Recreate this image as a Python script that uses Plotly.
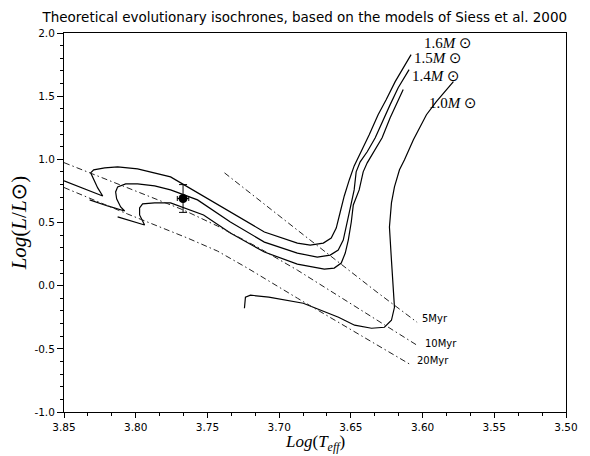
import plotly.graph_objects as go

# ---------------- data (log Teff, log L/Lsun) ----------------
M16_T = [3.6080, 3.6191, 3.6254, 3.6310, 3.6372, 3.6428, 3.6477, 3.6511, 3.6546, 3.6574,
         3.6602, 3.6637, 3.6692, 3.6783, 3.6873, 3.7103, 3.7340, 3.7569, 3.7757, 3.7987,
         3.8126, 3.8216, 3.8293, 3.8314, 3.8293, 3.8265, 3.8230, 3.8335, 3.8500]
M16_L = [1.829, 1.615, 1.472, 1.353, 1.194, 1.060, 0.948, 0.837, 0.710, 0.583,
         0.456, 0.377, 0.337, 0.321, 0.337, 0.425, 0.583, 0.742, 0.861, 0.925,
         0.940, 0.933, 0.917, 0.893, 0.837, 0.774, 0.710, 0.758, 0.830]

M15_T = [3.6094, 3.6170, 3.6226, 3.6268, 3.6330, 3.6386, 3.6435, 3.6463, 3.6477, 3.6504,
         3.6532, 3.6553, 3.6588, 3.6644, 3.6734, 3.6873, 3.7103, 3.7340, 3.7569, 3.7757,
         3.7868, 3.7987, 3.8070, 3.8126, 3.8140, 3.8133, 3.8105, 3.8077, 3.8196, 3.8321]
M15_L = [1.710, 1.567, 1.433, 1.329, 1.171, 1.060, 0.980, 0.901, 0.758, 0.615,
         0.456, 0.361, 0.282, 0.242, 0.226, 0.258, 0.345, 0.504, 0.679, 0.758,
         0.790, 0.806, 0.806, 0.782, 0.742, 0.687, 0.623, 0.591, 0.631, 0.679]

M14_T = [3.6135, 3.6191, 3.6226, 3.6282, 3.6337, 3.6386, 3.6414, 3.6442, 3.6483, 3.6497,
         3.6518, 3.6539, 3.6567, 3.6616, 3.6685, 3.6873, 3.7103, 3.7340, 3.7527, 3.7757,
         3.7868, 3.7952, 3.7973, 3.7973, 3.7938, 3.8035, 3.8126]
M14_L = [1.552, 1.409, 1.329, 1.171, 1.060, 0.972, 0.901, 0.758, 0.639, 0.504,
         0.361, 0.258, 0.179, 0.139, 0.131, 0.171, 0.266, 0.417, 0.560, 0.655,
         0.655, 0.647, 0.615, 0.560, 0.480, 0.512, 0.544]

M10_T = [3.7242, 3.7235, 3.7200, 3.7072, 3.6832, 3.6586, 3.6474, 3.6356, 3.6266, 3.6217,
         3.6196, 3.6203, 3.6217, 3.6231, 3.6217, 3.6196, 3.6161, 3.6126, 3.6064, 3.5973,
         3.5904, 3.5785]
M10_L = [-0.179, -0.091, -0.075, -0.091, -0.139, -0.250, -0.313, -0.337, -0.329, -0.274,
         -0.171, -0.012, 0.202, 0.464, 0.655, 0.782, 0.917, 0.996, 1.155, 1.353,
         1.456, 1.615]

ISO5_T = [3.7381, 3.7152, 3.6873, 3.6595, 3.6317, 3.6038]
ISO5_L = [0.893, 0.687, 0.440, 0.194, -0.052, -0.290]

ISO10_T = [3.8500, 3.8056, 3.7667, 3.7430, 3.7152, 3.6873, 3.6595, 3.6317, 3.6038]
ISO10_L = [0.974, 0.774, 0.599, 0.472, 0.306, 0.123, -0.075, -0.274, -0.472]

ISO20_T = [3.8500, 3.8265, 3.8056, 3.7848, 3.7639, 3.7430, 3.7221, 3.6873, 3.6525, 3.6087]
ISO20_L = [0.777, 0.663, 0.567, 0.472, 0.377, 0.274, 0.139, -0.099, -0.329, -0.623]

STAR_T = [3.767]
STAR_L = [0.69]
STAR_T_ERR = [0.004]
STAR_L_ERR = [0.11]

MASS_LABELS = ["1.6", "1.5", "1.4", "1.0"]
MASS_LABEL_T = [3.6003, 3.6073, 3.6087, 3.5968]
MASS_LABEL_L = [1.922, 1.803, 1.657, 1.448]

AGE_LABELS = ["5Myr", "10Myr", "20Myr"]
AGE_LABEL_T = [3.6017, 3.6000, 3.6050]
AGE_LABEL_L = [-0.258, -0.456, -0.591]

X_TICKS = [3.85, 3.80, 3.75, 3.70, 3.65, 3.60, 3.55, 3.50]
Y_TICKS = [-1.0, -0.5, 0.0, 0.5, 1.0, 1.5, 2.0]

# ---------------- figure ----------------
fig = go.Figure()

track_line = dict(color="black", width=1.2)
for T, L in [(M16_T, M16_L), (M15_T, M15_L), (M14_T, M14_L), (M10_T, M10_L)]:
    fig.add_trace(go.Scatter(x=T, y=L, mode="lines", line=track_line,
                             showlegend=False, hoverinfo="skip"))

iso_line = dict(color="#222222", width=1, dash="6px,3px,1.5px,3px")
for T, L in [(ISO5_T, ISO5_L), (ISO10_T, ISO10_L), (ISO20_T, ISO20_L)]:
    fig.add_trace(go.Scatter(x=T, y=L, mode="lines", line=iso_line,
                             showlegend=False, hoverinfo="skip"))

fig.add_trace(go.Scatter(
    x=STAR_T, y=STAR_L, mode="markers",
    marker=dict(size=9, color="black"),
    error_y=dict(type="data", array=STAR_L_ERR, color="black", thickness=1, width=4),
    error_x=dict(type="data", array=STAR_T_ERR, color="black", thickness=1, width=2.5),
    showlegend=False, hoverinfo="skip"))

annotations = []
for lab, t, l in zip(MASS_LABELS, MASS_LABEL_T, MASS_LABEL_L):
    annotations.append(dict(
        x=t, y=l, xref="x", yref="y", showarrow=False, xanchor="left", yanchor="middle",
        text=lab + "<i>M</i> <span style='font-family:DejaVu Sans'>⊙</span>",
        font=dict(family="Liberation Serif", size=15, color="black")))
for lab, t, l in zip(AGE_LABELS, AGE_LABEL_T, AGE_LABEL_L):
    annotations.append(dict(
        x=t, y=l, xref="x", yref="y", showarrow=False, xanchor="left", yanchor="middle",
        text=lab, font=dict(family="DejaVu Sans", size=10, color="black")))

# axis titles as annotations (paper coordinates of the plot area)
annotations.append(dict(
    x=0.5, y=-0.083, xref="paper", yref="paper", showarrow=False,
    xanchor="center", yanchor="middle",
    text="<i>Log</i>(<i>T</i><sub><i>eff</i></sub>)",
    font=dict(family="Liberation Serif", size=17, color="black")))
annotations.append(dict(
    x=-0.09, y=0.5, xref="paper", yref="paper", showarrow=False,
    xanchor="center", yanchor="middle", textangle=-90,
    text="<i>Log</i>(<i>L</i>/<i>L</i><span style='font-family:DejaVu Sans'>⊙</span>)",
    font=dict(family="Liberation Serif", size=21, color="black")))

fig.update_layout(
    width=582, height=448,
    margin=dict(l=56, r=15, t=25, b=44),
    paper_bgcolor="white", plot_bgcolor="white",
    title=dict(text="Theoretical evolutionary isochrones, based on the models of Siess et al. 2000",
               x=0.51, xref="container", xanchor="center",
               y=1 - 9 / 448, yref="container", yanchor="middle",
               font=dict(family="DejaVu Sans", size=13.5, color="black")),
    annotations=annotations,
    font=dict(family="DejaVu Sans", color="black"),
)

fig.update_xaxes(
    range=[3.85, 3.50], autorange=False,
    tickvals=X_TICKS, ticktext=[f"{v:.2f}" for v in X_TICKS],
    ticks="outside", ticklen=5, tickwidth=1, tickcolor="black",
    minor=dict(dtick=0.05 / 3, tick0=3.5, ticks="outside", ticklen=3, tickcolor="black"),
    showline=True, linecolor="black", linewidth=1, mirror=True,
    showgrid=False, zeroline=False,
    tickfont=dict(family="DejaVu Sans", size=10.5, color="black"),
)
fig.update_yaxes(
    range=[-1.0, 2.0], autorange=False,
    tickvals=Y_TICKS, ticktext=[f"{v:.1f}" for v in Y_TICKS],
    ticks="outside", ticklen=6, tickwidth=1, tickcolor="black",
    minor=dict(dtick=0.1, tick0=0, ticks="outside", ticklen=3, tickcolor="black"),
    showline=True, linecolor="black", linewidth=1, mirror=True,
    showgrid=False, zeroline=False,
    tickfont=dict(family="DejaVu Sans", size=10.5, color="black"),
)

fig.write_html("out.html")
